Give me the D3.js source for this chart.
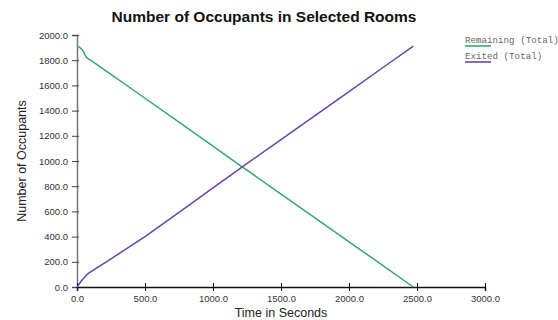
<!DOCTYPE html>
<html>
<head>
<meta charset="utf-8">
<script src="https://cdn.jsdelivr.net/npm/d3@7"></script>
<style>
  body { margin: 0; background: #fff; }
  svg { display: block; }
</style>
</head>
<body>
<div id="chart"></div>
<script>
// Values
const remainingTimes = [0, 20, 40, 70, 100, 250, 500, 750, 1000, 1203, 1250, 1500, 1750, 2000, 2250, 2473];
const remainingValues = [1912, 1902, 1882, 1820, 1800, 1688, 1498, 1308, 1118, 962, 927, 738, 548, 359, 170, 0];

const exitedTimes = [0, 40, 83, 250, 500, 750, 1000, 1203, 1500, 1750, 2000, 2250, 2473];
const exitedValues = [0, 60, 109, 224, 400, 592, 786, 944, 1170, 1361, 1551, 1742, 1912];

const seriesNames = ["Remaining (Total)", "Exited (Total)"];
const xTicks = [0, 500, 1000, 1500, 2000, 2500, 3000];
const yTicks = [0, 200, 400, 600, 800, 1000, 1200, 1400, 1600, 1800, 2000];

const W = 558, H = 320;
const margin = { top: 35, right: 73, bottom: 33, left: 77 };
const width = W - margin.left - margin.right,
      height = H - margin.top - margin.bottom;

const colors = ["#35a96b", "#6b44a3"];

const root = d3.select("#chart").append("svg")
    .attr("width", W)
    .attr("height", H);

const svg = root.append("g")
    .attr("transform", `translate(${margin.left},${margin.top})`);

const x = d3.scaleLinear().domain([0, 3000]).range([0, width]);
const y = d3.scaleLinear().domain([0, 2000]).range([height, 0]);

// Title
root.append("text")
    .attr("x", 264)
    .attr("y", 22)
    .attr("text-anchor", "middle")
    .style("font-family", "Liberation Sans, Arial, sans-serif")
    .style("font-weight", "bold")
    .style("font-size", "15.5px")
    .attr("fill", "#111")
    .text("Number of Occupants in Selected Rooms");

// Y axis
const yAxis = svg.append("g")
    .call(d3.axisLeft(y).tickValues(yTicks).tickFormat(d3.format(".1f")).tickSize(5).tickPadding(4));
yAxis.select(".domain").attr("stroke", "#777").attr("stroke-width", 1.5);
yAxis.selectAll(".tick line").attr("x1", 2).attr("stroke", "#444");
yAxis.selectAll(".tick text")
    .style("font-family", "Liberation Sans, Arial, sans-serif")
    .style("font-size", "9.5px")
    .attr("fill", "#333");

// X axis
const xAxis = svg.append("g")
    .attr("transform", `translate(0,${height})`)
    .call(d3.axisBottom(x).tickValues(xTicks).tickFormat(d3.format(".1f")).tickSize(4).tickPadding(4));
xAxis.select(".domain").attr("stroke", "#111").attr("stroke-width", 1.5);
xAxis.selectAll(".tick line").attr("y1", -4).attr("stroke", "#111");
xAxis.selectAll(".tick text")
    .style("font-family", "Liberation Sans, Arial, sans-serif")
    .style("font-size", "9.5px")
    .attr("fill", "#333");

// Axis titles
root.append("text")
    .attr("transform", `translate(26,${margin.top + height / 2}) rotate(-90)`)
    .attr("text-anchor", "middle")
    .style("font-family", "Liberation Sans, Arial, sans-serif")
    .style("font-size", "12.5px")
    .attr("fill", "#222")
    .text("Number of Occupants");

root.append("text")
    .attr("x", 281)
    .attr("y", 317)
    .attr("text-anchor", "middle")
    .style("font-family", "Liberation Sans, Arial, sans-serif")
    .style("font-size", "12.5px")
    .attr("fill", "#222")
    .text("Time in Seconds");

// Lines
const line = d3.line()
    .x(d => x(d[0]))
    .y(d => y(d[1]));

const series = [
    d3.zip(remainingTimes, remainingValues),
    d3.zip(exitedTimes, exitedValues)
];

svg.selectAll(".series")
    .data(series)
    .enter()
    .append("path")
    .attr("class", "series")
    .attr("fill", "none")
    .attr("stroke", (d, i) => colors[i])
    .attr("stroke-width", 1.5)
    .attr("d", line);

// Legend
const legend = root.selectAll(".legend")
    .data(seriesNames)
    .enter()
    .append("g")
    .attr("class", "legend")
    .attr("transform", (d, i) => `translate(465,${43 + i * 16})`);

legend.append("text")
    .style("font-family", "Liberation Mono, Courier New, monospace")
    .style("font-size", "9.2px")
    .attr("fill", "#666")
    .text(d => d);

legend.append("line")
    .attr("x1", 0)
    .attr("x2", 26)
    .attr("y1", 3)
    .attr("y2", 3)
    .attr("stroke", (d, i) => colors[i])
    .attr("stroke-width", 1.6);
</script>
</body>
</html>
